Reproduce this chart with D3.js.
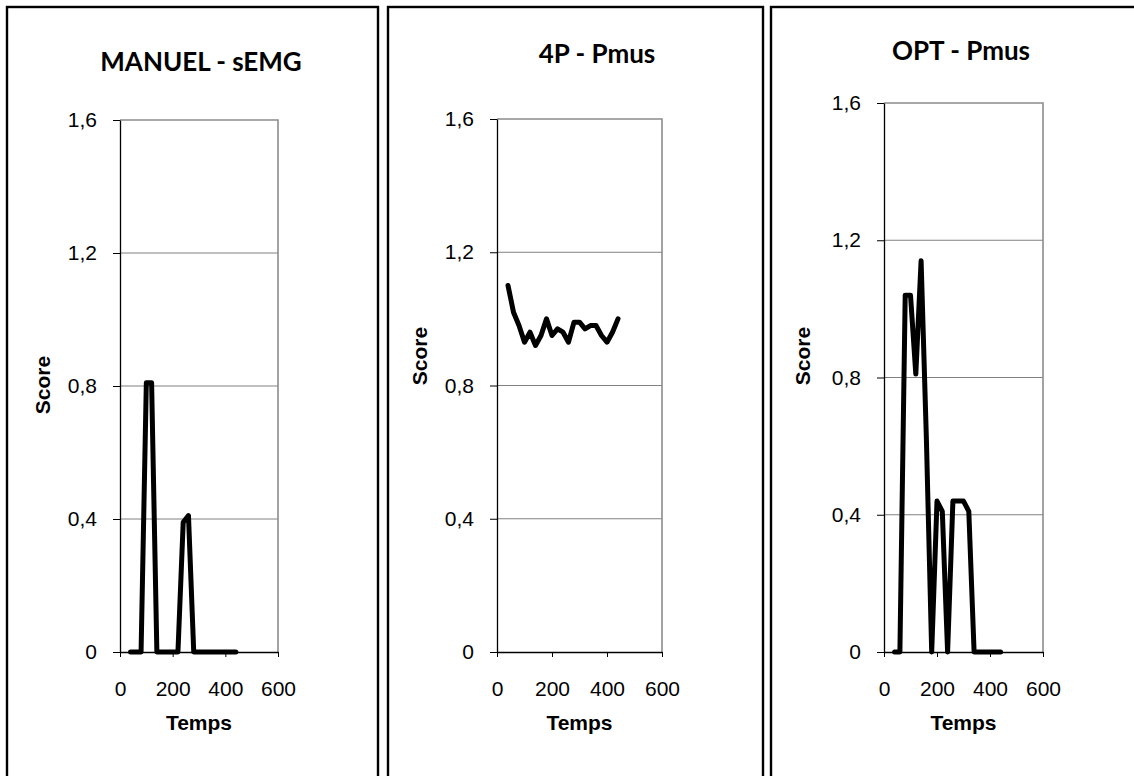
<!DOCTYPE html>
<html>
<head>
<meta charset="utf-8">
<script src="https://cdn.jsdelivr.net/npm/d3@7"></script>
<style>
  html, body { margin: 0; padding: 0; background: #fff; }
  svg { display: block; }
  .ax text, .lbl { font-family: "Liberation Sans", Arial, sans-serif; }
  .ttl { font-family: "Lato", "Open Sans", sans-serif; font-weight: bold; }
</style>
</head>
<body>
<svg id="chart" width="1134" height="776"></svg>
<script>
// ---- data ----
const temps = [40, 60, 80, 100, 120, 140, 160, 180, 200, 220, 240, 260, 280, 300, 320, 340, 360, 380, 400, 420, 440];
const manuelSEMG = [0, 0, 0, 0.81, 0.81, 0, 0, 0, 0, 0, 0.39, 0.41, 0, 0, 0, 0, 0, 0, 0, 0, 0];
const p4Pmus = [1.10, 1.02, 0.98, 0.93, 0.96, 0.92, 0.95, 1.00, 0.95, 0.97, 0.96, 0.93, 0.99, 0.99, 0.97, 0.98, 0.98, 0.95, 0.93, 0.96, 1.00];
const optPmus = [0, 0, 1.04, 1.04, 0.81, 1.14, 0.62, 0, 0.44, 0.41, 0, 0.44, 0.44, 0.44, 0.41, 0, 0, 0, 0, 0, 0];
const titles = ["MANUEL - sEMG", "4P - Pmus", "OPT - Pmus"];
const yTicks = [0, 0.4, 0.8, 1.2, 1.6];
const xTicks = [0, 200, 400, 600];
const xLabel = "Temps";
const yLabel = "Score";

// ---- layout ----
const panels = [
  { series: manuelSEMG, title: titles[0], frame: [7, 378], plot: { l: 120, r: 278, t: 120, b: 652 }, titleX: 201, titleY: 71, scoreX: 50, scoreY: 385 },
  { series: p4Pmus,     title: titles[1], frame: [388, 763], plot: { l: 497, r: 662, t: 119, b: 652 }, titleX: 597, titleY: 63, scoreX: 427, scoreY: 356 },
  { series: optPmus,    title: titles[2], frame: [771, 1150], plot: { l: 884, r: 1043, t: 103, b: 652 }, titleX: 961, titleY: 60, scoreX: 810, scoreY: 356 }
];

const svg = d3.select("#chart");
const fmt = d => d === 0 ? "0" : d3.format(".1f")(d).replace(".", ",");

panels.forEach(p => {
  // outer frame
  svg.append("rect")
    .attr("x", p.frame[0]).attr("y", 7)
    .attr("width", p.frame[1] - p.frame[0]).attr("height", 800)
    .attr("fill", "none").attr("stroke", "#000").attr("stroke-width", 2.4);

  const x = d3.scaleLinear().domain([0, 600]).range([p.plot.l, p.plot.r]);
  const y = d3.scaleLinear().domain([0, 1.6]).range([p.plot.b, p.plot.t]);
  const g = svg.append("g");

  // gridlines
  g.selectAll(".grid").data(yTicks.filter(v => v > 0 && v < 1.6)).join("line")
    .attr("x1", x(0)).attr("x2", x(600))
    .attr("y1", d => y(d)).attr("y2", d => y(d))
    .attr("stroke", "#808080").attr("stroke-width", 1);

  // top and right border (grey)
  g.append("path")
    .attr("d", `M${x(0)},${y(1.6)}H${x(600)}V${y(0)}`)
    .attr("fill", "none").attr("stroke", "#8c8c8c").attr("stroke-width", 1.6);

  // y axis
  const yAxis = d3.axisLeft(y).tickValues(yTicks).tickFormat(fmt).tickSizeInner(7).tickSizeOuter(0).tickPadding(16);
  const ya = g.append("g").attr("class", "ax").attr("transform", `translate(${x(0)},0)`).call(yAxis);
  ya.attr("font-family", null).attr("font-size", null);
  ya.select(".domain").attr("stroke", "#000").attr("stroke-width", 1.3);
  ya.selectAll(".tick line").attr("stroke", "#000");
  ya.selectAll("text").attr("font-size", 21).attr("fill", "#000");

  // x axis
  const xAxis = d3.axisBottom(x).tickValues(xTicks).tickFormat(d3.format("d")).tickSizeInner(5).tickSizeOuter(0).tickPadding(24);
  const xa = g.append("g").attr("class", "ax").attr("transform", `translate(0,${y(0)})`).call(xAxis);
  xa.attr("font-family", null).attr("font-size", null);
  xa.select(".domain").attr("stroke", "#000").attr("stroke-width", 1.3);
  xa.selectAll(".tick line").attr("stroke", "#000");
  xa.selectAll("text").attr("font-size", 21).attr("fill", "#000");

  // series line
  const line = d3.line().x((d, i) => x(temps[i])).y(d => y(d));
  g.append("path").datum(p.series)
    .attr("d", line)
    .attr("fill", "none").attr("stroke", "#000").attr("stroke-width", 5)
    .attr("stroke-linejoin", "round").attr("stroke-linecap", "round");

  // title
  svg.append("text").attr("class", "ttl")
    .attr("x", p.titleX).attr("y", p.titleY)
    .attr("text-anchor", "middle")
    .attr("font-size", 26)
    .text(p.title);

  // x label
  svg.append("text").attr("class", "lbl")
    .attr("x", (x(0) + x(600)) / 2).attr("y", 730)
    .attr("text-anchor", "middle")
    .attr("font-weight", "bold").attr("font-size", 21)
    .text(xLabel);

  // y label
  svg.append("text").attr("class", "lbl")
    .attr("transform", `translate(${p.scoreX},${p.scoreY}) rotate(-90)`)
    .attr("text-anchor", "middle")
    .attr("font-weight", "bold").attr("font-size", 21)
    .text(yLabel);
});
</script>
</body>
</html>
